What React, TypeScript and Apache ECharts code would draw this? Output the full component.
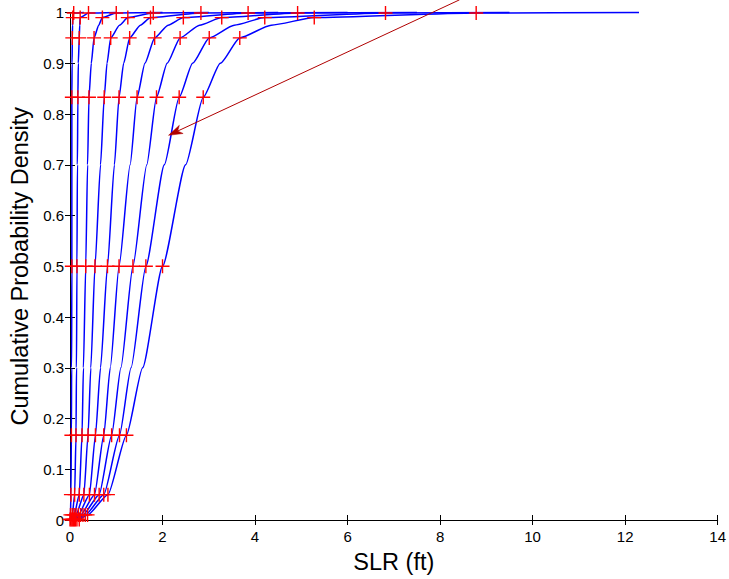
import React, { useEffect, useRef } from "react";
import * as echarts from "echarts";

// probability levels where the red "+" markers sit
const levels = [0.001, 0.01, 0.05, 0.167, 0.5, 0.833, 0.95, 0.99, 0.999];

// SLR (ft) at each marker level, one array per curve
const curve1 = [0.0, 0.01, 0.02, 0.03, 0.04, 0.04, 0.05, 0.06, 0.08];
const curve2 = [0.02, 0.05, 0.1, 0.13, 0.15, 0.17, 0.2, 0.22, 0.4];
const curve3 = [0.04, 0.09, 0.2, 0.26, 0.34, 0.41, 0.52, 0.7, 1.0];
const curve4 = [0.06, 0.13, 0.3, 0.39, 0.54, 0.74, 0.88, 1.25, 1.8];
const curve5 = [0.08, 0.18, 0.42, 0.55, 0.81, 1.06, 1.29, 1.74, 2.83];
const curve6 = [0.1, 0.23, 0.53, 0.73, 1.06, 1.45, 1.83, 2.45, 3.85];
const curve7 = [0.12, 0.28, 0.63, 0.9, 1.36, 1.87, 2.38, 3.28, 4.92];
const curve8 = [0.15, 0.33, 0.73, 1.07, 1.64, 2.36, 3.01, 4.21, 6.82];
const curve9 = [0.2, 0.38, 0.82, 1.22, 2.0, 2.88, 3.67, 5.28, 8.78];
const curves = [curve1, curve2, curve3, curve4, curve5, curve6, curve7, curve8, curve9];

// extra readings of each curve's line between the markers (one value per curve)
const lineAt030 = [0.035, 0.14, 0.29, 0.45, 0.66, 0.87, 1.1, 1.32, 1.57];
const lineAt070 = [0.04, 0.16, 0.38, 0.66, 0.96, 1.3, 1.66, 2.04, 2.5];
const lineAt090 = [0.045, 0.18, 0.46, 0.8, 1.16, 1.62, 2.1, 2.65, 3.25];
const lineAt0975 = [0.055, 0.21, 0.62, 1.07, 1.52, 2.12, 2.8, 3.55, 4.35];

// where each curve starts (at 0) and ends (at 1)
const curveStart = [0.0, 0.01, 0.02, 0.03, 0.04, 0.05, 0.06, 0.08, 0.1];
const curveEnd = [0.3, 1.0, 2.0, 3.0, 4.5, 6.0, 7.5, 9.5, 12.3];

const xTicks = [0, 2, 4, 6, 8, 10, 12, 14];
const yTicks = [0, 0.1, 0.2, 0.3, 0.4, 0.5, 0.6, 0.7, 0.8, 0.9, 1];

// annotation arrow (data coordinates)
const arrowFrom = [8.42, 1.025];
const arrowTo = [2.13, 0.758];

const plusPath =
  "path://M-0.1,-1L0.1,-1L0.1,-0.1L1,-0.1L1,0.1L0.1,0.1L0.1,1L-0.1,1L-0.1,0.1L-1,0.1L-1,-0.1L-0.1,-0.1Z";

export default function App() {
  const ref = useRef<HTMLDivElement>(null);
  useEffect(() => {
    document.body.style.margin = "0";
    const chart = echarts.init(ref.current!, null, { renderer: "svg" });
    const font = "Arial, 'Liberation Sans', sans-serif";
    const axisCommon = {
      axisLine: { show: true, lineStyle: { color: "#000", width: 1 } },
      axisTick: { show: true, inside: true, length: 5, lineStyle: { color: "#000" } },
      splitLine: { show: false },
    };
    const lineSeries = curves.map((c, i) => {
      const pts: number[][] = [
        [curveStart[i], 0],
        ...c.map((x, j) => [x, levels[j]]),
        [lineAt030[i], 0.3],
        [lineAt070[i], 0.7],
        [lineAt090[i], 0.9],
        [lineAt0975[i], 0.975],
        [curveEnd[i], 1],
      ];
      pts.sort((a, b) => a[1] - b[1]);
      return {
        type: "line",
        data: pts,
        showSymbol: false,
        symbol: "none",
        smooth: 0.2,
        smoothMonotone: "x",
        lineStyle: { color: "#0000ff", width: 1.5 },
        z: 2,
        clip: false,
      };
    });
    const markerData: number[][] = [];
    curves.forEach((c) => c.forEach((x, j) => markerData.push([x, levels[j]])));
    chart.setOption({
      animation: false,
      grid: { left: 69, right: 8, top: 12.5, bottom: 55, containLabel: false },
      xAxis: [
        {
          type: "value",
          min: 0,
          max: 14,
          interval: 2,
          position: "bottom",
          name: "SLR (ft)",
          nameLocation: "middle",
          nameGap: 30,
          nameTextStyle: { fontFamily: font, fontSize: 23.5, color: "#000" },
          axisLabel: {
            fontFamily: font,
            fontSize: 15,
            color: "#000",
            margin: 9,
            customValues: xTicks,
          },
          ...axisCommon,
        },
        {
          type: "value",
          min: 0,
          max: 14,
          interval: 2,
          position: "top",
          axisLabel: { show: false },
          ...axisCommon,
        },
      ],
      yAxis: [
        {
          type: "value",
          min: 0,
          max: 1,
          interval: 0.1,
          position: "left",
          name: "Cumulative Probability Density",
          nameLocation: "middle",
          nameGap: 38,
          nameTextStyle: { fontFamily: font, fontSize: 23.5, color: "#000" },
          axisLabel: {
            fontFamily: font,
            fontSize: 15,
            color: "#000",
            margin: 6,
            formatter: (v: number) => {
              const t = yTicks.find((y) => Math.abs(y - v) < 1e-9);
              return t === undefined ? "" : String(Math.round(t * 10) / 10);
            },
          },
          ...axisCommon,
        },
        {
          type: "value",
          min: 0,
          max: 1,
          interval: 0.1,
          position: "right",
          axisLabel: { show: false },
          ...axisCommon,
        },
      ],
      series: [
        ...lineSeries,
        {
          type: "scatter",
          data: markerData,
          symbol: plusPath,
          symbolSize: 14,
          itemStyle: { color: "#ff0000", opacity: 1 },
          z: 3,
          clip: false,
        },
      ],
    });

    // annotation arrow, placed through the chart's own coordinate conversion
    const p0 = chart.convertToPixel({ gridIndex: 0 }, arrowFrom) as number[];
    const p1 = chart.convertToPixel({ gridIndex: 0 }, arrowTo) as number[];
    const dx = p1[0] - p0[0];
    const dy = p1[1] - p0[1];
    const len = Math.hypot(dx, dy);
    const ux = dx / len;
    const uy = dy / len;
    const nx = -uy;
    const ny = ux;
    const L = 14;
    const W = 4.5;
    const back = [p1[0] - ux * L, p1[1] - uy * L];
    const notch = [p1[0] - ux * L * 0.72, p1[1] - uy * L * 0.72];
    const arrowColor = "#b00000";
    chart.setOption({
      graphic: [
        {
          type: "line",
          z: 10,
          silent: true,
          shape: { x1: p0[0], y1: p0[1], x2: notch[0], y2: notch[1] },
          style: { stroke: arrowColor, lineWidth: 1 },
        },
        {
          type: "polygon",
          z: 10,
          silent: true,
          shape: {
            points: [
              [p1[0], p1[1]],
              [back[0] + nx * W, back[1] + ny * W],
              notch,
              [back[0] - nx * W, back[1] - ny * W],
            ],
          },
          style: { fill: arrowColor, stroke: arrowColor, lineWidth: 0.5 },
        },
      ],
    });
    return () => chart.dispose();
  }, []);
  return (
    <div
      ref={ref}
      style={{ position: "absolute", left: 0, top: 0, width: 729, height: 579, background: "#fff" }}
    />
  );
}
